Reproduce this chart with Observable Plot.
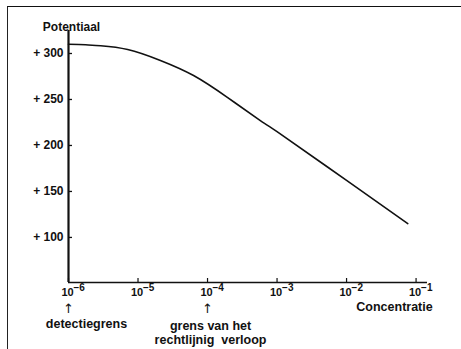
<!DOCTYPE html>
<html><head><meta charset="utf-8">
<script src="https://cdn.jsdelivr.net/npm/d3@7"></script>
<script src="https://cdn.jsdelivr.net/npm/@observablehq/plot@0.6"></script>
<style>
body{margin:0;background:#fff;}
#wrap{position:relative;width:461px;height:349px;overflow:hidden;}
#frame{position:absolute;left:7px;top:6px;width:470px;height:360px;border-top:1.5px solid #111;border-left:1.2px solid #222;pointer-events:none;}
#chart{position:absolute;left:0;top:0;}
</style></head><body><div id="wrap"><div id="chart"></div><div id="frame"></div></div>
<script>
const concentration = [1e-6, 1.76e-6, 2.9e-6, 7.1e-6, 2.1e-5, 6.3e-5, 1.95e-4, 5.75e-4, 1e-3, 1e-2, 7.6e-2];
const potential = [310, 309.5, 308.4, 304.3, 292.4, 276, 252, 227, 215, 162, 115];
const xTicks = [1e-6, 1e-5, 1e-4, 1e-3, 1e-2, 1e-1];
const xTickBase = "10";
const xTickExponents = ["\u22126", "\u22125", "\u22124", "\u22123", "\u22122", "\u22121"];
const yTicks = [100, 150, 200, 250, 300];
const yTickLabels = ["+ 100", "+ 150", "+ 200", "+ 250", "+ 300"];
const yLabel = "Potentiaal";
const xLabel = "Concentratie";
const noteDetect = "detectiegrens";
const noteLinear = "grens van het\nrechtlijnig  verloop";
const noteX = [1e-6, 1e-4];

const data = concentration.map((c, i) => ({c, p: potential[i]}));
const tickData = xTicks.map((t, i) => ({t, e: xTickExponents[i]}));
const xDomain = [1e-6, 0.146];
const yDomain = [51, 325];

const chart = Plot.plot({
  width: 461, height: 349,
  marginLeft: 68, marginTop: 30, marginRight: 34, marginBottom: 67,
  style: {fontFamily: "'Liberation Sans', Arial, sans-serif", fontSize: "12px", fontWeight: "bold", background: "transparent", color: "#111"},
  x: {type: "log", domain: xDomain, axis: null},
  y: {domain: yDomain},
  marks: [
    Plot.ruleX([xDomain[0]], {strokeWidth: 2.2, stroke: "#111"}),
    Plot.ruleY([yDomain[0]], {strokeWidth: 1.6, stroke: "#111"}),
    Plot.ruleY(yTicks, {y: d => d, x1: xDomain[0], x2: xDomain[0], insetRight: -4, strokeWidth: 1.3, stroke: "#111"}),
    Plot.ruleX(xTicks, {x: d => d, y1: yDomain[0], y2: yDomain[0], insetTop: -4, strokeWidth: 1.2, stroke: "#111"}),
    Plot.axisY({ticks: yTicks, tickSize: 0, tickPadding: 5, fontSize: 12, tickFormat: d => yTickLabels[yTicks.indexOf(d)], label: null}),
    Plot.text(tickData, {x: "t", text: () => xTickBase, frameAnchor: "bottom", dy: 13, dx: -1, textAnchor: "middle", fontSize: 11}),
    Plot.text(tickData, {x: "t", text: "e", frameAnchor: "bottom", dy: 8, dx: 5, textAnchor: "start", fontSize: 10}),
    Plot.line(data, {x: "c", y: "p", curve: "natural", strokeWidth: 1.6, stroke: "#111"}),
    Plot.text([yLabel], {frameAnchor: "top-left", dx: 3, dy: -8, textAnchor: "middle"}),
    Plot.text([xLabel], {frameAnchor: "bottom-right", dx: -33, dy: 28, textAnchor: "middle", fontSize: 12.5}),
    Plot.text(noteX, {x: d => d, text: () => "\u2191", frameAnchor: "bottom", dy: 30, fontSize: 13, fontWeight: "normal", fontFamily: "'DejaVu Sans', sans-serif"}),
    Plot.text([noteDetect], {x: noteX[0], frameAnchor: "bottom", dx: 18, dy: 37, lineAnchor: "top", textAnchor: "middle", fontSize: 12.5}),
    Plot.text([noteLinear], {x: noteX[1], frameAnchor: "bottom", dx: 3, dy: 37, lineAnchor: "top", lineHeight: 1.15, textAnchor: "middle", fontSize: 12.5})
  ]
});
document.getElementById("chart").appendChild(chart);
</script>
</body></html>
